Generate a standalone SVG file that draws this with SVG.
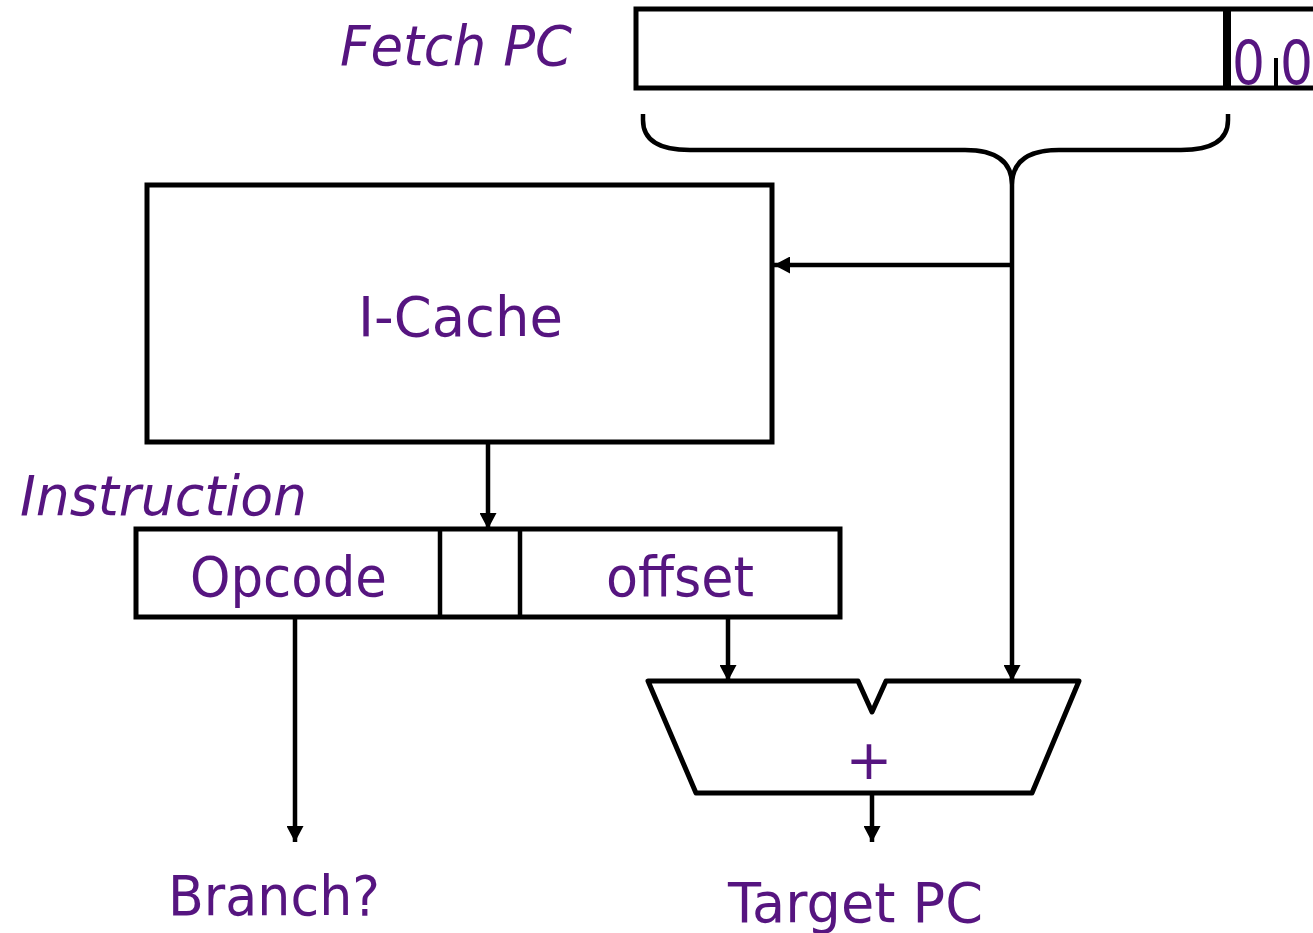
<svg xmlns="http://www.w3.org/2000/svg" width="1313" height="933" viewBox="0 0 1313 933">
<style>
.t{font-family:"DejaVu Sans","Liberation Sans",sans-serif;font-size:56px;fill:#561580}
.z{font-size:61px}
.i{font-style:italic}
.s{fill:none;stroke:#000;stroke-width:4.5}
.w{fill:#fff;stroke:#000;stroke-width:5}
.c{fill:none;stroke:#000;stroke-width:4.5}
</style>
<defs>
<marker id="a" viewBox="0 0 16 17" refX="16" refY="8.5" markerWidth="16" markerHeight="17" markerUnits="userSpaceOnUse" orient="auto">
<path d="M0,0 L16,8.5 L0,17 Z" fill="#000"/>
</marker>
</defs>
<g id="fetchpc">
<text class="t i" x="340" y="65" textLength="232" lengthAdjust="spacingAndGlyphs">Fetch PC</text>
<rect class="w" x="636" y="9" width="700" height="79"/>
<line x1="1227" y1="9" x2="1227" y2="88" stroke="#000" stroke-width="8"/>
<line x1="1276" y1="58" x2="1276" y2="88" stroke="#000" stroke-width="4"/>
<text class="t z" x="1232" y="84" textLength="33" lengthAdjust="spacingAndGlyphs">0</text>
<text class="t z" x="1280" y="84" textLength="33" lengthAdjust="spacingAndGlyphs">0</text>
</g>
<g id="brace">
<path class="s" d="M643,114 L643,120 Q643,150 690,150 L965,150 Q1012,150 1012,185 Q1012,150 1059,150 L1181,150 Q1228,150 1228,120 L1228,114"/>
</g>
<g id="icache">
<rect class="w" x="147" y="185" width="625" height="257"/>
<text class="t" x="358" y="336" textLength="205" lengthAdjust="spacingAndGlyphs">I-Cache</text>
</g>
<g id="instruction">
<text class="t i" x="20" y="515" textLength="287" lengthAdjust="spacingAndGlyphs">Instruction</text>
<rect class="w" x="136" y="529" width="704" height="88"/>
<line x1="440" y1="529" x2="440" y2="617" stroke="#000" stroke-width="4.5"/>
<line x1="520" y1="529" x2="520" y2="617" stroke="#000" stroke-width="4.5"/>
<text class="t" x="190" y="596" textLength="197" lengthAdjust="spacingAndGlyphs">Opcode</text>
<text class="t" x="606" y="596" textLength="148" lengthAdjust="spacingAndGlyphs">offset</text>
</g>
<g id="adder">
<polygon class="w" stroke-linejoin="round" stroke-width="5" points="648,681 858,681 872,712 886,681 1079,681 1032,793 696,793"/>
<text class="t" x="869" y="779" text-anchor="middle">+</text>
</g>
<g id="labels">
<text class="t" x="168" y="915" textLength="212" lengthAdjust="spacingAndGlyphs">Branch?</text>
<text class="t" x="728" y="922" textLength="255" lengthAdjust="spacingAndGlyphs">Target PC</text>
</g>
<g id="connectors">
<line class="c" x1="1012" y1="185" x2="1012" y2="681" marker-end="url(#a)"/>
<line class="c" x1="1012" y1="265" x2="774" y2="265" marker-end="url(#a)"/>
<line class="c" x1="488" y1="442" x2="488" y2="529" marker-end="url(#a)"/>
<line class="c" x1="728" y1="617" x2="728" y2="681" marker-end="url(#a)"/>
<line class="c" x1="295" y1="617" x2="295" y2="842" marker-end="url(#a)"/>
<line class="c" x1="872" y1="793" x2="872" y2="842" marker-end="url(#a)"/>
</g>
</svg>
